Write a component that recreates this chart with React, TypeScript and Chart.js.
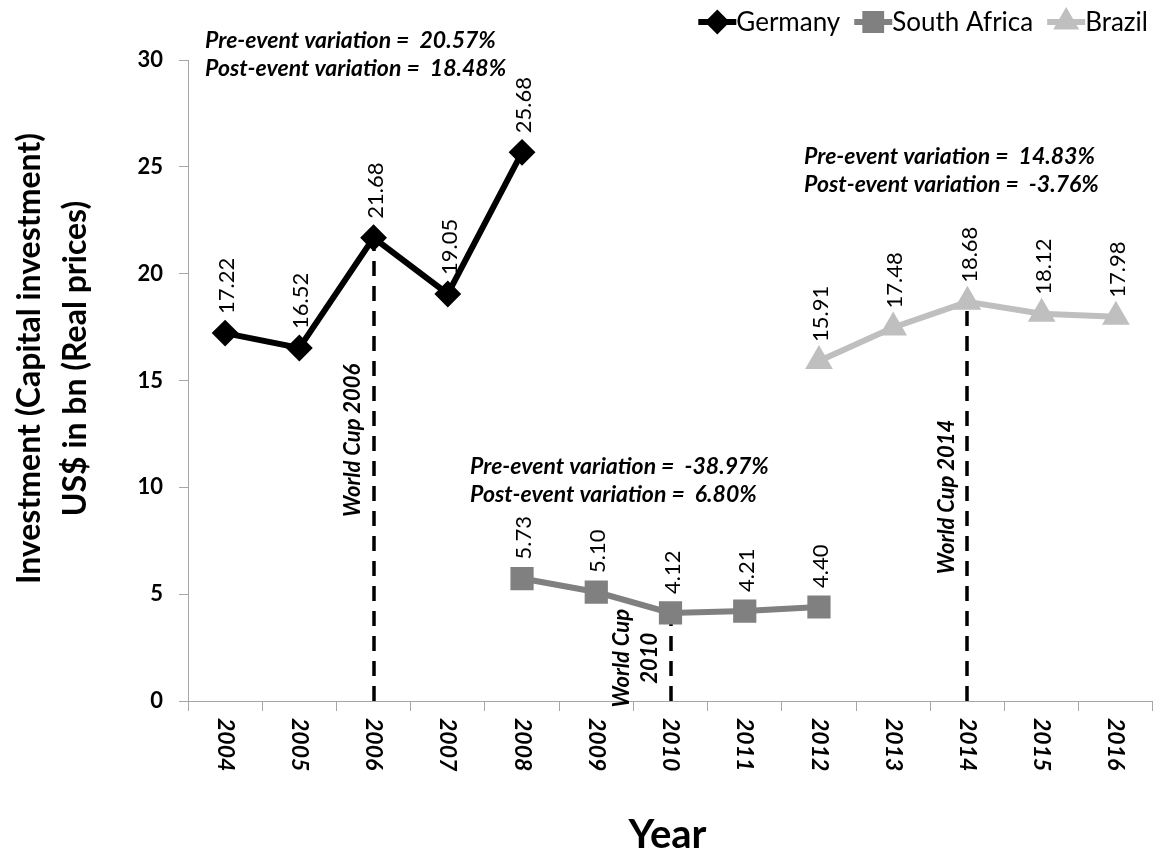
import React, { useEffect, useRef } from "react";
import { Chart, registerables } from "chart.js";
import { drawPoint } from "chart.js/helpers";

Chart.register(...registerables);

// ---------- data ----------
const years = ["2004", "2005", "2006", "2007", "2008", "2009", "2010", "2011", "2012", "2013", "2014", "2015", "2016"];
const germany = [17.22, 16.52, 21.68, 19.05, 25.68, null, null, null, null, null, null, null, null];
const southAfrica = [null, null, null, null, 5.73, 5.1, 4.12, 4.21, 4.4, null, null, null, null];
const brazil = [null, null, null, null, null, null, null, null, 15.91, 17.48, 18.68, 18.12, 17.98];

const seriesNames = ["Germany", "South Africa", "Brazil"];
const seriesColors = ["#000000", "#808080", "#bfbfbf"];
const seriesMarkers = ["rectRot", "rect", "triangle"];
const seriesRadius = [12, 15, 14];

const yMin = 0;
const yMax = 30;
const yStep = 5;

// event (World Cup) markers
const eventYears = ["2006", "2010", "2014"];
const eventLabels = [["World Cup 2006"], ["World Cup", "2010"], ["World Cup 2014"]];
const eventLabelCenterY = [12.2, 2.0, 9.55]; // in data units

// pre/post variation notes
const notePre = ["Pre-event variation =  20.57%", "Pre-event variation =  -38.97%", "Pre-event variation =  14.83%"];
const notePost = ["Post-event variation =  18.48%", "Post-event variation =  6.80%", "Post-event variation =  -3.76%"];
const noteAnchorX = [-0.27, 3.3, 7.8]; // category units
const noteAnchorY = [30.9, 10.95, 25.46]; // data units

const yTitleLines = ["Investment (Capital investment)", "US$ in bn (Real prices)"];
const xTitle = "Year";

const FONT = "Lato, 'Open Sans', sans-serif";

const allSeries = [germany, southAfrica, brazil];

const overlayPlugin = {
  id: "overlay",
  beforeDatasetsDraw(chart: any) {
    const { ctx, scales } = chart;
    const xs = scales.x;
    const ys = scales.y;
    ctx.save();
    ctx.strokeStyle = "#000";
    ctx.lineWidth = 3.5;
    ctx.setLineDash([15, 10]);
    eventYears.forEach((yr) => {
      const idx = years.indexOf(yr);
      let v: number | null = null;
      allSeries.forEach((s) => {
        if (v === null && s[idx] !== null) v = s[idx] as number;
      });
      if (v === null) return;
      const x = Math.round(xs.getPixelForValue(idx));
      ctx.beginPath();
      ctx.moveTo(x, ys.getPixelForValue(0));
      ctx.lineTo(x, ys.getPixelForValue(v));
      ctx.stroke();
    });
    ctx.restore();
  },
  afterDatasetsDraw(chart: any) {
    const { ctx, scales, chartArea } = chart;
    const xs = scales.x;
    const ys = scales.y;
    ctx.save();
    // data labels
    ctx.fillStyle = "#000";
    ctx.font = `22px ${FONT}`;
    ctx.textAlign = "left";
    ctx.textBaseline = "middle";
    allSeries.forEach((s) => {
      s.forEach((v, i) => {
        if (v === null) return;
        const x = xs.getPixelForValue(i) + 2;
        const y = ys.getPixelForValue(v) - 19;
        ctx.save();
        ctx.translate(x, y);
        ctx.rotate(-Math.PI / 2);
        ctx.fillText((v as number).toFixed(2), 0, 0);
        ctx.restore();
      });
    });

    // x tick labels (rotated clockwise)
    ctx.font = `italic bold 23px ${FONT}`;
    years.forEach((yr, i) => {
      const x = xs.getPixelForValue(i);
      ctx.save();
      ctx.translate(x, chartArea.bottom + 17);
      ctx.rotate(Math.PI / 2);
      ctx.textAlign = "left";
      ctx.textBaseline = "middle";
      ctx.fillText(yr, 0, 0);
      ctx.restore();
    });

    // event labels
    ctx.font = `italic bold 22px ${FONT}`;
    eventYears.forEach((yr, k) => {
      const idx = years.indexOf(yr);
      const lines = eventLabels[k];
      const lh = 28;
      const cx = xs.getPixelForValue(idx) - 21 - ((lines.length - 1) * lh) / 2 - (lines.length > 1 ? 14 : 0);
      const cy = ys.getPixelForValue(eventLabelCenterY[k]);
      lines.forEach((ln, j) => {
        ctx.save();
        ctx.translate(cx + j * lh, cy);
        ctx.rotate(-Math.PI / 2);
        ctx.textAlign = "center";
        ctx.textBaseline = "middle";
        ctx.fillText(ln, 0, 0);
        ctx.restore();
      });
    });

    // variation notes
    ctx.font = `italic bold 23px ${FONT}`;
    ctx.textAlign = "left";
    ctx.textBaseline = "middle";
    notePre.forEach((t, k) => {
      const x = xs.getPixelForValue(0) + noteAnchorX[k] * (xs.getPixelForValue(1) - xs.getPixelForValue(0));
      const y = ys.getPixelForValue(noteAnchorY[k]);
      ctx.fillText(t, x, y);
      ctx.fillText(notePost[k], x, y + 28);
    });

    // axis titles
    ctx.font = `bold 32px ${FONT}`;
    ctx.textAlign = "center";
    ctx.textBaseline = "middle";
    const cyT = (chartArea.top + chartArea.bottom) / 2 - 22;
    yTitleLines.forEach((ln, j) => {
      ctx.save();
      ctx.translate(30 + j * 46, cyT);
      ctx.rotate(-Math.PI / 2);
      ctx.fillText(ln, 0, 0);
      ctx.restore();
    });
    ctx.font = `bold 40px ${FONT}`;
    ctx.fillText(xTitle, (chartArea.left + chartArea.right) / 2 - 3, 835);

    // legend (top right)
    ctx.font = `26px ${FONT}`;
    const sample = 38;
    const gap = 14;
    const widths = seriesNames.map((n) => sample + ctx.measureText(n).width);
    const total = widths.reduce((a, b) => a + b, 0) + gap * (seriesNames.length - 1);
    let lx = 1148 - total;
    const ly = 22;
    seriesNames.forEach((n, k) => {
      ctx.strokeStyle = seriesColors[k];
      ctx.fillStyle = seriesColors[k];
      ctx.lineWidth = 6;
      ctx.setLineDash([]);
      ctx.beginPath();
      ctx.moveTo(lx, ly);
      ctx.lineTo(lx + sample, ly);
      ctx.stroke();
      ctx.lineWidth = 2;
      drawPoint(ctx, { pointStyle: seriesMarkers[k], radius: seriesRadius[k] - 1, rotation: 0, borderWidth: 2 } as any, lx + sample / 2, ly);
      ctx.fillStyle = "#000";
      ctx.textAlign = "left";
      ctx.textBaseline = "middle";
      ctx.fillText(n, lx + sample, ly + 1);
      lx += widths[k] + gap;
    });
    ctx.restore();
  },
};

export default function App() {
  const ref = useRef<HTMLCanvasElement | null>(null);
  useEffect(() => {
    if (!ref.current) return;
    const chart = new Chart(ref.current, {
      type: "line",
      data: {
        labels: years,
        datasets: allSeries.map((s, k) => ({
          label: seriesNames[k],
          data: s,
          borderColor: seriesColors[k],
          backgroundColor: seriesColors[k],
          borderWidth: 6,
          pointStyle: seriesMarkers[k] as any,
          pointRadius: seriesRadius[k],
          pointBorderWidth: 2,
          pointBackgroundColor: seriesColors[k],
          pointBorderColor: seriesColors[k],
          spanGaps: false,
          tension: 0,
          fill: false,
          clip: false,
        })),
      },
      options: {
        animation: false,
        responsive: false,
        devicePixelRatio: 1,
        layout: { autoPadding: false, padding: { top: 60, right: 0, left: 0, bottom: 0 } },
        plugins: { legend: { display: false }, tooltip: { enabled: false }, title: { display: false } },
        scales: {
          x: {
            type: "category",
            offset: true,
            grid: { display: true, drawOnChartArea: false, drawTicks: true, tickLength: 10, color: "#a6a6a6", offset: true },
            border: { color: "#a6a6a6", width: 1 },
            ticks: { display: false },
            afterFit: (s: any) => {
              s.height = 153;
            },
          },
          y: {
            min: yMin,
            max: yMax,
            ticks: { stepSize: yStep, font: { family: FONT, size: 22, weight: "bold" }, color: "#000", padding: 16 },
            grid: { drawOnChartArea: false, drawTicks: true, tickLength: 9, color: "#a6a6a6" },
            border: { color: "#a6a6a6", width: 1 },
            afterFit: (s: any) => {
              s.width = 188;
            },
          },
        },
      } as any,
      plugins: [overlayPlugin],
    });
    return () => chart.destroy();
  }, []);
  return (
    <div style={{ position: "absolute", left: 0, top: 0, width: 1153, height: 854 }}>
      <canvas ref={ref} width={1153} height={854} />
    </div>
  );
}
